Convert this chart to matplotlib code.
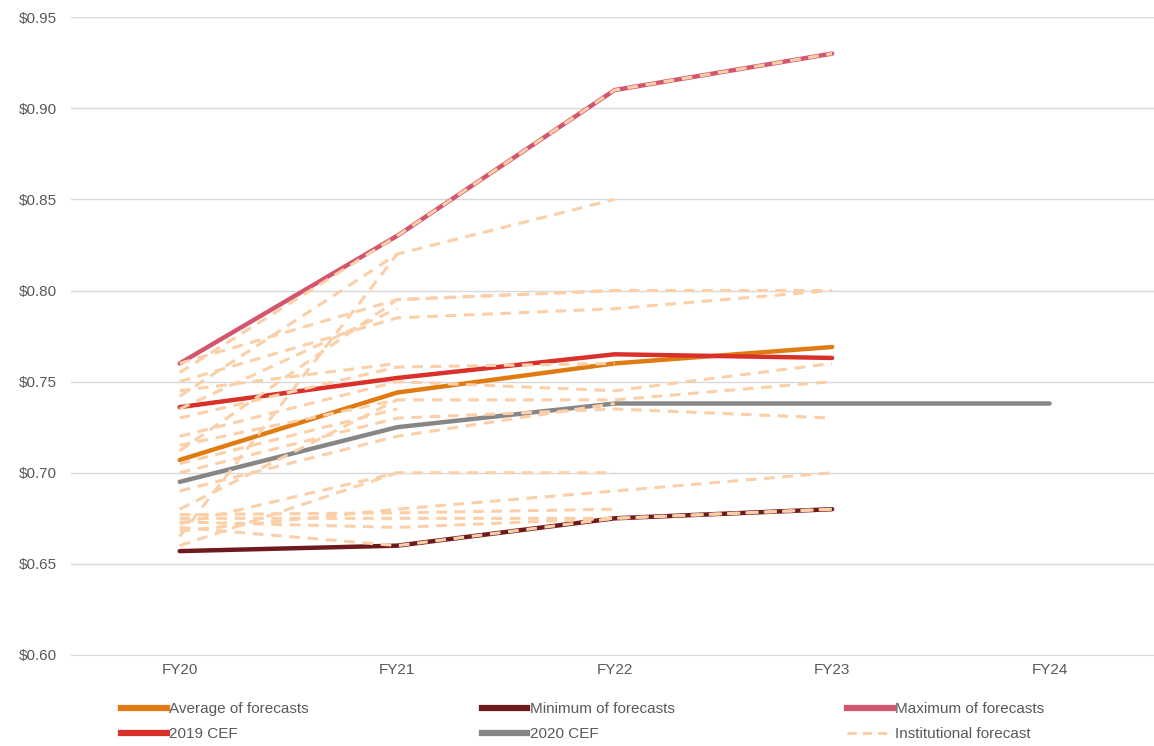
import numpy as np
import matplotlib.pyplot as plt
from matplotlib.lines import Line2D

plt.rcParams['font.family'] = ['Liberation Sans', 'DejaVu Sans']

years = ['FY20', 'FY21', 'FY22', 'FY23', 'FY24']
nan = np.nan

average = [0.707, 0.744, 0.760, 0.769]
minimum = [0.657, 0.660, 0.675, 0.680]
maximum = [0.760, 0.830, 0.910, 0.930]
cef_2019 = [0.736, 0.752, 0.765, 0.763]
cef_2020 = [0.695, 0.725, 0.738, 0.738, 0.738]

# one row per institution, FY20..FY23 (nan = no forecast)
institutional = [
    [0.755, 0.830, 0.910, 0.930],
    [0.742, 0.820, 0.850, nan],
    [0.760, 0.795, 0.800, 0.800],
    [0.750, 0.785, 0.790, 0.800],
    [0.712, 0.795, 0.800, nan],
    [0.665, 0.820, nan, nan],
    [0.735, 0.790, nan, nan],
    [0.745, 0.760, nan, nan],
    [0.730, 0.758, 0.760, nan],
    [0.720, 0.750, 0.745, 0.760],
    [0.715, 0.740, 0.740, 0.750],
    [0.705, 0.735, nan, nan],
    [0.700, 0.730, 0.735, 0.730],
    [0.690, 0.720, 0.738, nan],
    [0.672, 0.700, 0.700, nan],
    [0.668, 0.680, 0.690, 0.700],
    [0.677, 0.678, 0.680, nan],
    [0.675, 0.675, 0.675, 0.680],
    [0.673, 0.670, 0.675, nan],
    [0.670, 0.660, 0.675, 0.680],
    [0.660, 0.700, nan, nan],
    [0.680, 0.740, nan, nan],
]

fig = plt.figure(figsize=(11.54, 7.46), dpi=100)
ax = fig.add_axes([0.0615, 0.122, 0.9385, 0.855])

x = np.arange(len(years))
inst_color = '#fbcfa8'
for row in institutional:
    ax.plot(x[:4], row, color=inst_color, lw=2.2, ls=(0, (3.5, 2.5)), zorder=3)

ax.plot(x[:4], average, color='#e07b12', lw=3.2, solid_capstyle='round', zorder=2)
ax.plot(x[:4], minimum, color='#6e1a1c', lw=3.2, solid_capstyle='round', zorder=2)
ax.plot(x[:4], maximum, color='#d4566e', lw=3.2, solid_capstyle='round', zorder=2)
ax.plot(x[:4], cef_2019, color='#d9312a', lw=3.2, solid_capstyle='round', zorder=2)
ax.plot(x, cef_2020, color='#868686', lw=3.2, solid_capstyle='round', zorder=2)

ax.set_xlim(-0.5, 4.48)
ax.set_ylim(0.60, 0.95)
ax.set_xticks(x)
ax.set_xticklabels(years)
ax.set_yticks(np.arange(0.60, 0.951, 0.05))
ax.yaxis.set_major_formatter(plt.FuncFormatter(lambda v, p: '${:.2f}'.format(v)))
ax.tick_params(length=0, labelsize=11, labelcolor='#595959')
ax.tick_params(axis='y', pad=10)
ax.tick_params(axis='x', pad=6)
ax.grid(axis='y', color='#d9d9d9', lw=1)
ax.set_axisbelow(True)
for s in ax.spines.values():
    s.set_visible(False)
ax.spines['bottom'].set_visible(True)
ax.spines['bottom'].set_color('#d9d9d9')

handles = [
    Line2D([], [], color='#e07b12', lw=4.5),
    Line2D([], [], color='#d9312a', lw=4.5),
    Line2D([], [], color='#6e1a1c', lw=4.5),
    Line2D([], [], color='#868686', lw=4.5),
    Line2D([], [], color='#d4566e', lw=4.5),
    Line2D([], [], color=inst_color, lw=2.2, ls=(0, (3, 2))),
]
labels = ['Average of forecasts', '2019 CEF', 'Minimum of forecasts',
          '2020 CEF', 'Maximum of forecasts', 'Institutional forecast']
fig.legend(handles, labels, ncol=3, loc='upper left', bbox_to_anchor=(0.105, 0.059),
           frameon=False, fontsize=11, labelcolor='#595959', handlelength=3.0,
           handletextpad=0.15, columnspacing=11.3, labelspacing=0.75,
           borderaxespad=0, borderpad=0)

fig.savefig('out.png', dpi=100)
